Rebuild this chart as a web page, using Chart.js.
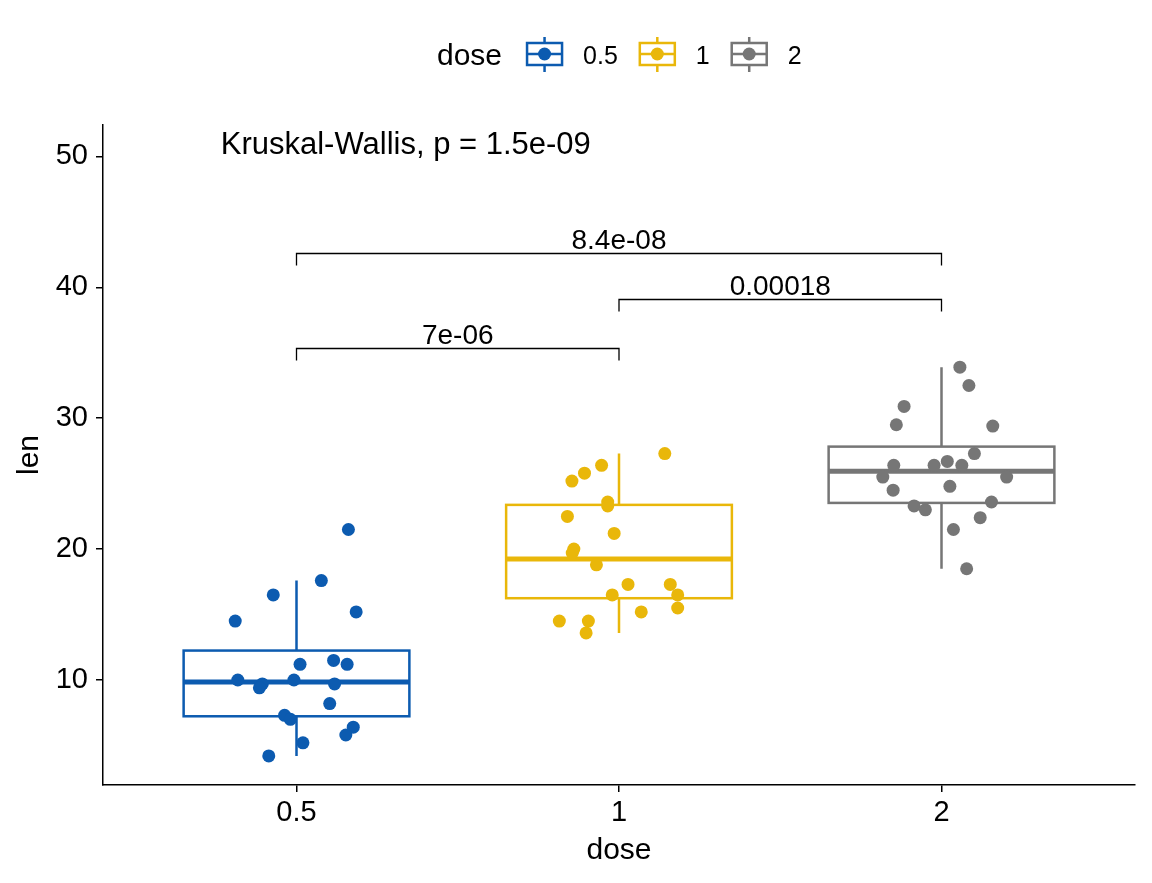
<!DOCTYPE html>
<html>
<head>
<meta charset="utf-8">
<title>len by dose</title>
<script src="https://cdn.jsdelivr.net/npm/chart.js@4.4.0/dist/chart.umd.min.js"></script>
<style>
  html, body { margin: 0; padding: 0; background: #fff; }
</style>
</head>
<body>
<canvas id="chart" width="1152" height="883"></canvas>
<script>
// categories and colours
const doses = ['0.5', '1', '2'];
const colors = ['#0C5BB0', '#E9B70A', '#767676'];

// len values of every point, by dose
const len05 = [21.5, 17.6, 16.5, 15.2, 14.5, 11.2, 11.5, 11.2, 10.0, 10.0, 9.7, 9.4, 9.7, 8.2, 7.3, 7.0, 6.4, 5.8, 5.2, 4.2];
const len1 = [27.3, 26.4, 25.8, 25.2, 23.6, 23.3, 22.5, 21.2, 20.0, 19.7, 18.8, 17.3, 17.3, 16.5, 16.5, 15.2, 15.5, 14.5, 14.5, 13.6];
const len2 = [33.9, 32.5, 30.9, 29.5, 29.4, 27.3, 26.7, 26.4, 26.4, 26.4, 25.5, 25.5, 24.8, 24.5, 23.6, 23.3, 23.0, 22.4, 21.5, 18.5];

// horizontal jitter of each point (category units)
const jit05 = [0.161, 0.077, -0.072, 0.185, -0.190, 0.011, 0.115, 0.157, -0.182, -0.008, -0.106, -0.115, 0.118, 0.103, -0.037, -0.019, 0.176, 0.153, 0.020, -0.086];
const jit1 = [0.142, -0.054, -0.107, -0.146, -0.035, -0.035, -0.160, -0.015, -0.140, -0.145, -0.070, 0.028, 0.159, -0.021, 0.182, 0.069, 0.182, -0.185, -0.095, -0.102];
const jit2 = [0.057, 0.085, -0.116, -0.140, 0.159, 0.102, 0.018, -0.148, -0.023, 0.063, -0.182, 0.202, 0.026, -0.150, 0.155, -0.085, -0.050, 0.120, 0.037, 0.078];

// box statistics
const q1 = [7.23, 16.25, 23.53];
const medians = [9.85, 19.25, 25.95];
const q3 = [12.25, 23.38, 27.83];
const whiskLo = [4.2, 13.6, 18.5];
const whiskHi = [17.6, 27.3, 33.9];

// pairwise comparisons (brackets)
const pairFrom = [1, 2, 1];
const pairTo = [2, 3, 3];
const pairY = [35.4, 39.1, 42.6];
const pairLabels = ['7e-06', '0.00018', '8.4e-08'];
const globalLabel = 'Kruskal-Wallis, p = 1.5e-09';

const yTicks = [10, 20, 30, 40, 50];

const FONT = '"Liberation Sans", Arial, Helvetica, sans-serif';
const BOX_HALF = 0.35;

const lens = [len05, len1, len2];
const jits = [jit05, jit1, jit2];

const datasets = doses.map((d, i) => ({
    label: d,
    data: lens[i].map((v, k) => ({ x: i + 1 + jits[i][k], y: v })),
    backgroundColor: colors[i],
    borderWidth: 0,
    pointRadius: 6.5,
    pointHoverRadius: 6.5
}));

// boxes under the points
const boxPlugin = {
    id: 'boxes',
    beforeDatasetsDraw(chart) {
        const { ctx, scales: { x, y } } = chart;
        ctx.save();
        doses.forEach((d, i) => {
            const cx = x.getPixelForValue(i + 1);
            const left = x.getPixelForValue(i + 1 - BOX_HALF);
            const right = x.getPixelForValue(i + 1 + BOX_HALF);
            const top = y.getPixelForValue(q3[i]);
            const bottom = y.getPixelForValue(q1[i]);
            ctx.strokeStyle = colors[i];
            ctx.lineWidth = 2.5;
            // whiskers
            ctx.beginPath();
            ctx.moveTo(cx, y.getPixelForValue(whiskHi[i]));
            ctx.lineTo(cx, top);
            ctx.moveTo(cx, bottom);
            ctx.lineTo(cx, y.getPixelForValue(whiskLo[i]));
            ctx.stroke();
            // box
            ctx.fillStyle = '#fff';
            ctx.fillRect(left, top, right - left, bottom - top);
            ctx.strokeRect(left, top, right - left, bottom - top);
            // median
            ctx.lineWidth = 5;
            ctx.beginPath();
            const my = y.getPixelForValue(medians[i]);
            ctx.moveTo(left, my);
            ctx.lineTo(right, my);
            ctx.stroke();
        });
        ctx.restore();
    }
};

// brackets, p values, legend
const annotPlugin = {
    id: 'annot',
    afterDraw(chart) {
        const { ctx, scales: { x, y } } = chart;
        ctx.save();
        ctx.strokeStyle = '#000';
        ctx.fillStyle = '#000';
        ctx.lineWidth = 1.3;
        ctx.font = '28px ' + FONT;
        ctx.textAlign = 'center';
        ctx.textBaseline = 'alphabetic';
        pairLabels.forEach((lab, i) => {
            const x1 = x.getPixelForValue(pairFrom[i]);
            const x2 = x.getPixelForValue(pairTo[i]);
            const py = Math.round(y.getPixelForValue(pairY[i])) + 0.5;
            ctx.beginPath();
            ctx.moveTo(x1, py + 12);
            ctx.lineTo(x1, py);
            ctx.lineTo(x2, py);
            ctx.lineTo(x2, py + 12);
            ctx.stroke();
            ctx.fillText(lab, (x1 + x2) / 2, py - 5);
        });

        ctx.font = '31px ' + FONT;
        ctx.textAlign = 'left';
        ctx.textBaseline = 'middle';
        ctx.fillText(globalLabel, x.getPixelForValue(0.765), y.getPixelForValue(50.8));

        // legend
        let lx = 437;
        const ly = 57;
        ctx.font = '30px ' + FONT;
        ctx.fillText('dose', lx, ly);
        lx += ctx.measureText('dose').width + 24;
        doses.forEach((d, i) => {
            const gw = 37;
            const gc = lx + gw / 2;
            ctx.strokeStyle = colors[i];
            ctx.fillStyle = colors[i];
            ctx.lineWidth = 2.5;
            ctx.beginPath();
            ctx.moveTo(gc, ly - 20);
            ctx.lineTo(gc, ly - 14);
            ctx.moveTo(gc, ly + 8);
            ctx.lineTo(gc, ly + 15);
            ctx.stroke();
            ctx.strokeRect(lx + 1, ly - 14, gw - 2, 22);
            ctx.beginPath();
            ctx.moveTo(lx + 1, ly - 3);
            ctx.lineTo(lx + gw - 1, ly - 3);
            ctx.stroke();
            ctx.beginPath();
            ctx.arc(gc, ly - 3, 6.5, 0, Math.PI * 2);
            ctx.fill();
            lx += gw + 20;
            ctx.fillStyle = '#000';
            ctx.font = '25px ' + FONT;
            ctx.fillText(d, lx, ly);
            lx += ctx.measureText(d).width + 21;
        });
        ctx.restore();
    }
};

new Chart(document.getElementById('chart'), {
    type: 'scatter',
    data: { datasets },
    options: {
        responsive: false,
        animation: false,
        devicePixelRatio: 1,
        layout: { padding: { top: 125, right: 17, left: 15, bottom: 17 } },
        plugins: { legend: { display: false }, tooltip: { enabled: false } },
        scales: {
            x: {
                type: 'linear',
                min: 0.4,
                max: 3.6,
                afterBuildTicks: s => { s.ticks = [1, 2, 3].map(v => ({ value: v })); },
                afterFit: s => { s.height = 81; },
                ticks: {
                    callback: v => doses[Math.round(v) - 1],
                    font: { family: FONT, size: 29 },
                    color: '#000',
                    padding: 4,
                    maxRotation: 0,
                    autoSkip: false
                },
                grid: { drawOnChartArea: false, tickLength: 7, color: '#000', lineWidth: 1.5 },
                border: { color: '#000', width: 1.5 },
                title: { display: true, text: 'dose', color: '#000', padding: 0, font: { family: FONT, size: 30, lineHeight: 1 } }
            },
            y: {
                type: 'linear',
                min: 1.98,
                max: 52.4,
                afterBuildTicks: s => { s.ticks = yTicks.map(v => ({ value: v })); },
                afterFit: s => { s.width = 88; },
                ticks: {
                    font: { family: FONT, size: 29 },
                    color: '#000',
                    padding: 8
                },
                grid: { drawOnChartArea: false, tickLength: 7, color: '#000', lineWidth: 1.5 },
                border: { color: '#000', width: 1.5 },
                title: { display: true, text: 'len', color: '#000', padding: 0, font: { family: FONT, size: 30, lineHeight: 1 } }
            }
        }
    },
    plugins: [boxPlugin, annotPlugin]
});
</script>
</body>
</html>
